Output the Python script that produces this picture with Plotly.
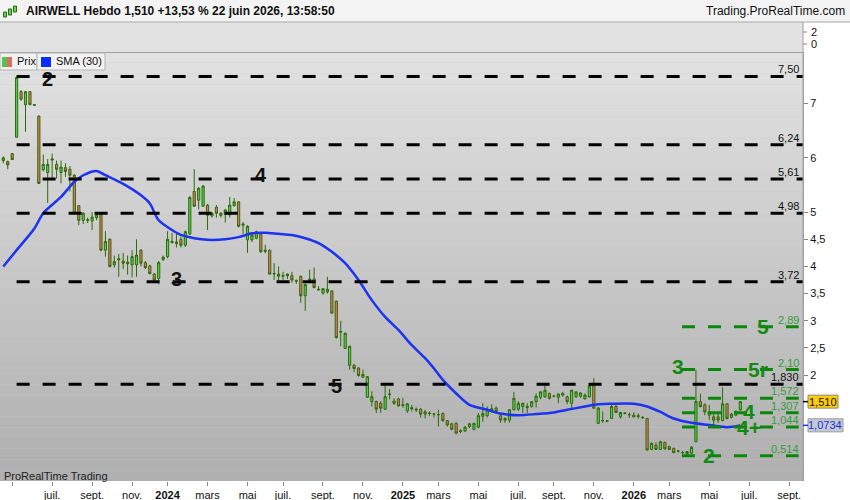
import pandas as pd
import plotly.graph_objects as go

# weekly candles AIRWELL, first week 17 april 2023
first_week = "2023-04-17"
opens = [5.95, 5.93, 6.08, 6.38, 7.22, 6.98, 7.22, 6.97, 6.77, 5.78,
         5.73, 5.96, 5.88, 5.73, 5.82, 5.79, 5.68, 5.12, 4.85, 4.86,
         4.84, 4.90, 4.96, 4.30, 4.50, 4.03, 4.12, 4.10, 4.08, 4.03,
         4.03, 4.30, 4.07, 4.01, 3.86, 3.78, 4.13, 4.18, 4.44, 4.42,
         4.50, 4.39, 4.60, 5.38, 5.22, 5.11, 5.13, 4.93, 5.09, 4.94,
         4.96, 4.95, 5.12, 5.19, 4.76, 4.49, 4.49, 4.52, 4.60, 4.30,
         4.30, 3.86, 3.86, 3.82, 3.83, 3.83, 3.74, 3.82, 3.46, 3.74,
         3.77, 3.58, 3.51, 3.53, 3.55, 3.36, 2.79, 2.49, 2.18, 2.18,
         2.13, 1.96, 1.59, 1.51, 1.51, 1.48, 1.37, 1.64, 1.52, 1.56,
         1.44, 1.34, 1.40, 1.37, 1.37, 1.28, 1.30, 1.28, 1.27, 1.29,
         1.16, 1.10, 1.11, 0.96, 0.97, 1.05, 1.00, 1.04, 1.24, 1.25,
         1.33, 1.39, 1.25, 1.20, 1.17, 1.36, 1.37, 1.42, 1.40, 1.42,
         1.51, 1.59, 1.60, 1.66, 1.61, 1.59, 1.63, 1.60, 1.48, 1.60,
         1.61, 1.56, 1.60, 1.80, 1.11, 1.16, 1.15, 1.20, 1.42, 1.23,
         1.29, 1.27, 1.26, 1.25, 1.21, 1.20, 0.63, 0.71, 0.63, 0.76,
         0.68, 0.65, 0.60, 0.57, 0.55, 0.56, 0.77, 1.51, 1.45, 1.26,
         1.23, 1.23, 1.16, 1.47, 1.22, 1.26, 1.36]
highs = [6.03, 5.95, 6.09, 7.50, 7.25, 7.23, 7.23, 6.98, 6.78, 6.06,
         5.98, 6.08, 5.95, 5.95, 5.90, 5.85, 5.70, 5.12, 5.00, 4.90,
         5.00, 5.00, 4.98, 4.65, 4.52, 4.20, 4.23, 4.25, 4.20, 4.30,
         4.50, 4.32, 4.10, 4.03, 3.88, 4.10, 4.20, 4.65, 4.62, 4.60,
         4.55, 4.66, 5.30, 5.79, 5.46, 5.50, 5.15, 5.00, 5.13, 5.00,
         5.06, 5.28, 5.26, 5.20, 4.82, 4.76, 4.62, 4.66, 4.62, 4.40,
         4.31, 4.06, 4.00, 3.90, 3.87, 3.90, 3.76, 3.83, 3.68, 3.94,
         3.98, 3.64, 3.60, 3.81, 3.56, 3.37, 3.00, 2.78, 2.54, 2.20,
         2.14, 2.10, 1.98, 1.70, 1.53, 1.52, 1.82, 1.74, 1.57, 1.58,
         1.58, 1.48, 1.45, 1.40, 1.39, 1.36, 1.33, 1.30, 1.36, 1.31,
         1.17, 1.12, 1.13, 1.00, 1.06, 1.12, 1.12, 1.30, 1.48, 1.42,
         1.46, 1.42, 1.28, 1.22, 1.37, 1.69, 1.52, 1.49, 1.48, 1.52,
         1.66, 1.70, 1.82, 1.68, 1.63, 1.66, 1.69, 1.62, 1.73, 1.70,
         1.68, 1.66, 1.85, 1.94, 1.41, 1.33, 1.17, 1.46, 1.45, 1.32,
         1.31, 1.31, 1.31, 1.29, 1.24, 1.21, 0.76, 0.76, 0.79, 0.77,
         0.70, 0.66, 0.62, 0.60, 0.60, 0.69, 2.10, 1.66, 1.48, 1.45,
         1.30, 1.30, 1.77, 1.48, 1.30, 1.35, 1.52]
lows = [5.90, 5.79, 5.96, 6.38, 7.05, 6.48, 6.97, 6.96, 5.52, 5.75,
        5.17, 5.60, 5.62, 5.53, 5.65, 5.38, 4.97, 4.76, 4.78, 4.80,
        4.67, 4.85, 4.28, 4.18, 3.98, 3.98, 3.81, 3.95, 3.85, 3.80,
        3.81, 4.00, 3.95, 3.85, 3.69, 3.67, 4.10, 4.15, 4.42, 4.35,
        4.35, 4.36, 4.58, 5.10, 5.05, 5.10, 4.67, 4.90, 4.90, 4.90,
        4.81, 4.90, 5.10, 4.72, 4.60, 4.25, 4.45, 4.50, 4.25, 4.24,
        3.85, 3.75, 3.75, 3.75, 3.77, 3.70, 3.68, 3.33, 3.18, 3.70,
        3.60, 3.56, 3.48, 3.50, 3.13, 2.67, 2.53, 2.48, 2.10, 2.05,
        1.97, 1.95, 1.58, 1.42, 1.30, 1.30, 1.36, 1.55, 1.45, 1.42,
        1.40, 1.30, 1.33, 1.32, 1.22, 1.20, 1.25, 1.22, 1.05, 1.14,
        1.05, 0.98, 0.91, 0.93, 0.95, 1.02, 0.98, 1.02, 1.14, 1.22,
        1.30, 1.30, 1.12, 1.12, 1.12, 1.35, 1.34, 1.30, 1.30, 1.40,
        1.40, 1.55, 1.58, 1.55, 1.59, 1.48, 1.60, 1.46, 1.39, 1.58,
        1.58, 1.55, 1.58, 1.38, 1.10, 1.12, 1.13, 1.19, 1.30, 1.20,
        1.28, 1.21, 1.22, 1.20, 1.19, 0.61, 0.62, 0.62, 0.62, 0.63,
        0.62, 0.56, 0.57, 0.54, 0.53, 0.55, 0.77, 1.40, 1.26, 1.17,
        1.02, 1.12, 1.15, 1.18, 1.20, 1.24, 1.33]
closes = [6.00, 5.87, 5.97, 7.48, 7.08, 7.22, 6.98, 6.98, 5.53, 5.88,
          5.88, 5.98, 5.79, 5.83, 5.75, 5.68, 4.98, 4.85, 4.98, 4.85,
          4.91, 4.95, 4.30, 4.46, 4.00, 4.09, 4.14, 4.06, 4.05, 4.18,
          4.21, 4.06, 3.98, 3.87, 3.75, 4.07, 4.17, 4.50, 4.46, 4.45,
          4.39, 4.64, 5.27, 5.11, 5.44, 5.48, 4.94, 4.98, 4.98, 4.98,
          5.04, 5.13, 5.19, 4.74, 4.78, 4.74, 4.58, 4.64, 4.27, 4.28,
          3.86, 3.87, 3.82, 3.83, 3.86, 3.75, 3.73, 3.46, 3.67, 3.77,
          3.61, 3.57, 3.59, 3.58, 3.14, 2.69, 2.80, 2.77, 2.53, 2.12,
          1.99, 2.01, 1.97, 1.60, 1.37, 1.39, 1.60, 1.65, 1.48, 1.43,
          1.45, 1.47, 1.38, 1.36, 1.28, 1.32, 1.29, 1.28, 1.27, 1.16,
          1.08, 1.00, 0.93, 0.97, 1.04, 1.10, 1.11, 1.25, 1.29, 1.36,
          1.38, 1.33, 1.17, 1.17, 1.36, 1.57, 1.48, 1.48, 1.42, 1.51,
          1.61, 1.69, 1.72, 1.57, 1.61, 1.65, 1.66, 1.51, 1.72, 1.69,
          1.67, 1.63, 1.80, 1.39, 1.39, 1.16, 1.16, 1.42, 1.31, 1.31,
          1.30, 1.27, 1.23, 1.24, 1.22, 0.62, 0.74, 0.63, 0.77, 0.64,
          0.63, 0.57, 0.60, 0.57, 0.59, 0.67, 1.51, 1.42, 1.32, 1.32,
          1.17, 1.17, 1.47, 1.20, 1.28, 1.33, 1.51]

# SMA(30) at some weeks (week index -> value)
sma_week = [0, 3, 7, 9, 13, 16, 18, 21, 23, 27, 31, 33, 35, 38, 40, 43, 46,
            50, 53, 56, 59, 62, 65, 68, 71, 74, 77, 80, 83, 86, 89, 92, 95,
            97, 99, 102, 105, 109, 112, 116, 120, 124, 127, 131, 134, 137,
            142, 145, 148, 151, 155, 159, 163, 166]
sma_val = [4.00, 4.30, 4.70, 4.98, 5.28, 5.56, 5.68, 5.76, 5.68, 5.52, 5.31,
           5.16, 4.85, 4.67, 4.58, 4.52, 4.49, 4.50, 4.54, 4.61, 4.62, 4.60,
           4.58, 4.52, 4.43, 4.27, 4.06, 3.75, 3.38, 3.07, 2.83, 2.55, 2.31,
           2.12, 1.91, 1.66, 1.45, 1.36, 1.29, 1.26, 1.28, 1.31, 1.36, 1.42,
           1.46, 1.47, 1.47, 1.42, 1.32, 1.20, 1.12, 1.08, 1.04, 1.07]
sma_last = 1.0734

black_levels = [7.50, 6.24, 5.61, 4.98, 3.72, 1.830]
black_labels = ["7,50", "6,24", "5,61", "4,98", "3,72", "1,830"]
green_levels = [2.89, 2.10, 1.572, 1.307, 1.044, 0.514]
green_labels = ["2,89", "2,10", "1,572", "1,307", "1,044", "0,514"]

ytick_vals = [2, 2.5, 3, 3.5, 4, 4.5, 5, 6, 7]
ytick_text = ["2", "2,5", "3", "3,5", "4", "4,5", "5", "6", "7"]

xtick_vals = ["2023-05-01", "2023-07-03", "2023-09-04", "2023-11-06", "2024-01-01",
              "2024-03-04", "2024-05-06", "2024-07-01", "2024-09-02", "2024-11-04",
              "2025-01-06", "2025-03-03", "2025-05-05", "2025-07-07", "2025-09-01",
              "2025-11-03", "2026-01-05", "2026-03-02", "2026-05-04", "2026-07-06",
              "2026-09-07"]
xtick_text = ["", "juil.", "sept.", "nov.", "<b>2024</b>", "mars", "mai", "juil.",
              "sept.", "nov.", "<b>2025</b>", "mars", "mai", "juil.", "sept.", "nov.",
              "<b>2026</b>", "mars", "mai", "juil.", "sept."]

dates = pd.date_range(first_week, periods=len(closes), freq="7D")

W, H = 850, 500
ML, MR, MT, MB = 0, 47, 52, 19
PW, PH = W - ML - MR, H - MT - MB
FONT = "Liberation Sans, Arial, sans-serif"
x_start = "2023-04-11 19:00"
x_end = "2026-09-28 19:00"


def px(x):
    return x / PW


def py(y):
    return (H - MB - y) / PH


fig = go.Figure()

fig.add_trace(go.Candlestick(
    x=dates, open=opens, high=highs, low=lows, close=closes,
    increasing=dict(fillcolor="#52d152", line=dict(color="#2d6a0a", width=1)),
    decreasing=dict(fillcolor="#ee7263", line=dict(color="#2d6a0a", width=1)),
    whiskerwidth=0, hoverinfo="skip", showlegend=False))

fig.add_trace(go.Scatter(
    x=[dates[i] for i in sma_week], y=sma_val, mode="lines",
    line=dict(color="#1c33f2", width=2.5, shape="spline", smoothing=0.8),
    hoverinfo="skip", showlegend=False))

shapes = []
# background gradient of the price panel
n_band = 40
for i in range(n_band):
    t = i / (n_band - 1)
    c = int(226 - 50 * t)
    shapes.append(dict(type="rect", xref="paper", yref="paper", layer="below",
                       x0=0, x1=1, y0=1 - (i + 1) / n_band, y1=1 - i / n_band,
                       fillcolor=f"rgb({c},{c},{c})", line=dict(width=0)))

for lv in black_levels:
    shapes.append(dict(type="line", xref="x", yref="y", x0=dates[3], x1=x_end,
                       y0=lv, y1=lv, line=dict(color="black", width=3, dash="13px,13px")))
for lv in green_levels:
    shapes.append(dict(type="line", xref="x", yref="y", x0="2026-03-22", x1="2026-09-22",
                       y0=lv, y1=lv, line=dict(color="#0b870b", width=3, dash="13px,13px")))

# header bar and empty upper panel
shapes += [
    dict(type="rect", xref="paper", yref="paper", x0=0, x1=px(W), y0=py(22), y1=py(0),
         fillcolor="#f3f3f3", line=dict(width=0)),
    dict(type="rect", xref="paper", yref="paper", x0=0, x1=1, y0=py(52), y1=py(22),
         fillcolor="#e2e2e2", line=dict(width=0)),
    dict(type="line", xref="paper", yref="paper", x0=0, x1=px(W), y0=py(22), y1=py(22),
         line=dict(color="#a8a8a8", width=1)),
    dict(type="line", xref="paper", yref="paper", x0=0, x1=1, y0=py(52.5), y1=py(52.5),
         line=dict(color="#a0a0a0", width=1)),
    dict(type="line", xref="paper", yref="paper", x0=1, x1=1, y0=0, y1=py(22),
         line=dict(color="#a0a0a0", width=1)),
    dict(type="line", xref="paper", yref="paper", x0=1, x1=px(807), y0=py(32), y1=py(32),
         line=dict(color="#888", width=1)),
    dict(type="line", xref="paper", yref="paper", x0=1, x1=px(807), y0=py(44), y1=py(44),
         line=dict(color="#888", width=1)),
    # legend boxes
    dict(type="rect", xref="paper", yref="paper", x0=0, x1=px(37), y0=py(70), y1=py(53),
         fillcolor="#f2f2f2", line=dict(color="#b4b4b4", width=1)),
    dict(type="rect", xref="paper", yref="paper", x0=px(37), x1=px(105), y0=py(70), y1=py(53),
         fillcolor="#f2f2f2", line=dict(color="#b4b4b4", width=1)),
    dict(type="rect", xref="paper", yref="paper", x0=px(2), x1=px(7), y0=py(67), y1=py(57),
         fillcolor="#4fc44f", line=dict(width=0)),
    dict(type="rect", xref="paper", yref="paper", x0=px(7), x1=px(12), y0=py(67), y1=py(57),
         fillcolor="#e26a62", line=dict(width=0)),
    dict(type="rect", xref="paper", yref="paper", x0=px(41), x1=px(51), y0=py(67), y1=py(57),
         fillcolor="#0a2cff", line=dict(width=0)),
]
# small icon in the header
for x0, y0, y1 in [(5, 12, 17), (10, 9, 15), (15, 6, 12)]:
    shapes.append(dict(type="rect", xref="paper", yref="paper", x0=px(x0 - 1.5), x1=px(x0 + 1.5),
                       y0=py(y1), y1=py(y0), fillcolor="#5cd65c",
                       line=dict(color="#2d6a0a", width=1)))

# price tags on the right axis
last_close = closes[-1]
shapes += [
    dict(type="rect", xref="paper", yref="y", x0=px(808), x1=px(838), ysizemode="pixel",
         yanchor=last_close, y0=-6.5, y1=6.5, fillcolor="#ffcc00", line=dict(color="#8a8a8a", width=1)),
    dict(type="line", xref="paper", yref="y", x0=1, x1=px(808), y0=last_close, y1=last_close,
         line=dict(color="black", width=1.5)),
    dict(type="rect", xref="paper", yref="y", x0=px(808), x1=px(843), ysizemode="pixel",
         yanchor=sma_last, y0=-6.5, y1=6.5, fillcolor="#c5c9d6", line=dict(color="#9a9a9a", width=1)),
    dict(type="line", xref="paper", yref="y", x0=1, x1=px(808), y0=sma_last, y1=sma_last,
         line=dict(color="#1c33f2", width=1.5)),
]

ann = []


def label(x, y, text, size=11, color="#111", xanchor="left", yref="paper", **kw):
    ann.append(dict(xref="paper", yref=yref, x=x, y=y, text=text, showarrow=False,
                    xanchor=xanchor, yanchor=kw.pop("yanchor", "middle"),
                    font=dict(family=FONT, size=size, color=color), **kw))


label(px(24), py(11), "<b>AIRWELL Hebdo 1,510 +13,53 % 22 juin 2026, 13:58:50</b>", size=12)
label(px(847), py(11), "Trading.ProRealTime.com", size=12, xanchor="right")
label(px(809), py(32), "2")
label(px(809), py(44), "0")
label(px(15), py(61.5), "Prix")
label(px(54), py(61.5), "SMA (30)")
label(px(2), py(475.5), "ProRealTime Trading", color="#222")

for lv, lab in zip(black_levels, black_labels):
    label(px(800), lv, lab, xanchor="right", yref="y", yanchor="bottom", borderpad=0)
for lv, lab in zip(green_levels, green_labels):
    label(px(800), lv, lab, color="#3a9a3a", xanchor="right", yref="y", yanchor="bottom", borderpad=0)

# wave counts
for x, y, t in [(47.5, 79, "2"), (261, 175, "4"), (176.5, 278.5, "3"), (336, 385.5, "5")]:
    label(px(x), py(y), f"<b>{t}</b>", size=20, xanchor="center")
for x, y, t in [(678, 366, "3"), (762.5, 326, "5"), (757.5, 369, "5r"), (749, 411, "4"),
                (748.5, 427, "4+"), (709, 455, "2")]:
    label(px(x), py(y), f"<b>{t}</b>", size=21, color="#118a11", xanchor="center")

label(px(823), last_close, f"{last_close:.3f}".replace(".", ","), xanchor="center", yref="y")
label(px(825.5), sma_last, f"{sma_last:.4f}".replace(".", ","), color="#1c33d0",
      xanchor="center", yref="y")

fig.update_layout(
    width=W, height=H, autosize=False,
    margin=dict(l=ML, r=MR, t=MT, b=MB, pad=0),
    paper_bgcolor="white", plot_bgcolor="#c8c8c8",
    shapes=shapes, annotations=ann,
    font=dict(family=FONT, size=11, color="#111"),
    xaxis=dict(type="date", range=[x_start, x_end], tickvals=xtick_vals, ticktext=xtick_text,
               ticks="outside", ticklen=4, tickcolor="#888", showgrid=False, zeroline=False,
               showline=False, rangeslider=dict(visible=False), tickfont=dict(size=11)),
    yaxis=dict(side="right", range=[0.048, 7.95], tickvals=ytick_vals, ticktext=ytick_text,
               ticks="outside", ticklen=4, tickcolor="#888", showgrid=False, zeroline=False,
               showline=True, linecolor="#a0a0a0", tickfont=dict(size=11)),
)

fig.write_html("out.html", config={"displayModeBar": False},
               post_script="document.body.style.margin='0';")
